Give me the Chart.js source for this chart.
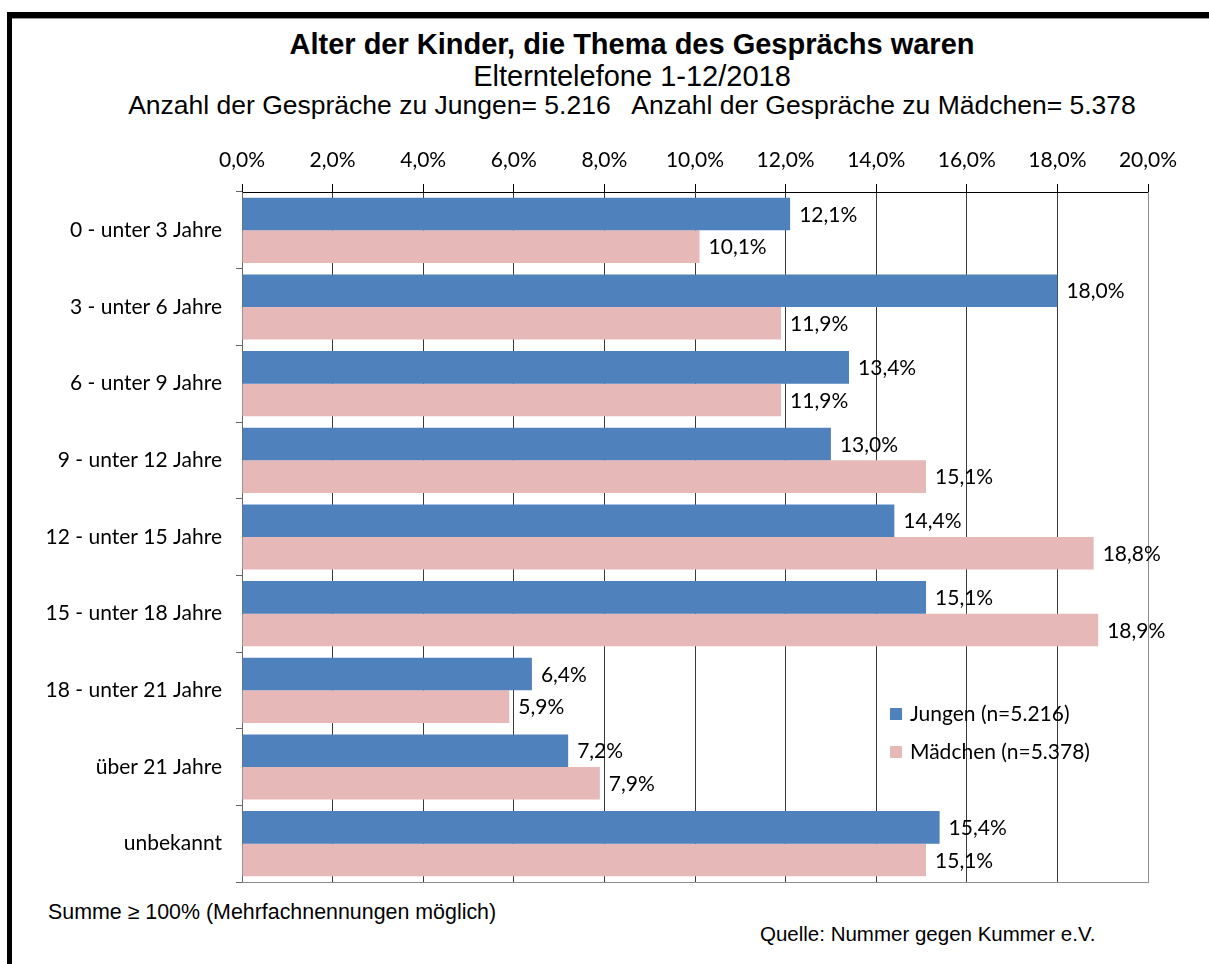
<!DOCTYPE html>
<html>
<head>
<meta charset="utf-8">
<script src="https://cdn.jsdelivr.net/npm/chart.js@4/dist/chart.umd.min.js"></script>
<style>
  body { margin: 0; background: #fff; }
  #wrap { position: relative; width: 1209px; height: 964px; background: #fff; overflow: hidden; }
  .txt { position: absolute; font-family: "Liberation Sans", Arial, sans-serif; color: #000; white-space: nowrap; line-height: 1.15; }
  .c { left: 0; width: 1264px; text-align: center; }
  #frameTop { position: absolute; left: 7px; top: 12px; width: 1202px; height: 6px; background: #000; border-bottom: 1px solid #999; }
  #frameLeft { position: absolute; left: 7px; top: 12px; width: 5px; height: 952px; background: #000; }
  canvas { position: absolute; left: 0; top: 0; }
</style>
</head>
<body>
<div id="wrap">
  <div id="frameTop"></div>
  <div id="frameLeft"></div>
  <div class="txt c" style="top:28px;font-size:29px;font-weight:bold;">Alter der Kinder, die Thema des Gesprächs waren</div>
  <div class="txt c" style="top:60px;font-size:29px;">Elterntelefone 1-12/2018</div>
  <div class="txt c" style="top:90px;font-size:26.5px;">Anzahl der Gespräche zu Jungen= 5.216&nbsp;&nbsp; Anzahl der Gespräche zu Mädchen= 5.378</div>
  <div class="txt" style="left:48px;top:900px;font-size:21.4px;">Summe ≥ 100% (Mehrfachnennungen möglich)</div>
  <div class="txt" style="left:760px;top:922px;font-size:20.5px;">Quelle: Nummer gegen Kummer e.V.</div>
  <canvas id="chart" width="1209" height="964"></canvas>
</div>
<script>
// Altersgruppen
const categories = ['0 - unter 3 Jahre', '3 - unter 6 Jahre', '6 - unter 9 Jahre', '9 - unter 12 Jahre',
  '12 - unter 15 Jahre', '15 - unter 18 Jahre', '18 - unter 21 Jahre', 'über 21 Jahre', 'unbekannt'];
const jungen = [12.1, 18.0, 13.4, 13.0, 14.4, 15.1, 6.4, 7.2, 15.4];
const maedchen = [10.1, 11.9, 11.9, 15.1, 18.8, 18.9, 5.9, 7.9, 15.1];
const xTicks = [0, 2, 4, 6, 8, 10, 12, 14, 16, 18, 20];

const FONT = 'Lato, "Open Sans", sans-serif';
const fmt = v => v.toFixed(1).replace('.', ',') + '%';

// Werte neben den Balken + Legende + Rahmen der Zeichenfläche
const extras = {
  id: 'extras',
  afterDatasetsDraw(chart) {
    const ctx = chart.ctx;
    const a = chart.chartArea;
    ctx.save();
    // rechter und unterer Rand
    ctx.strokeStyle = '#8c8c8c';
    ctx.lineWidth = 1;
    ctx.beginPath();
    ctx.moveTo(a.right + 0.5, a.top);
    ctx.lineTo(a.right + 0.5, a.bottom + 0.5);
    ctx.lineTo(a.left, a.bottom + 0.5);
    ctx.stroke();

    ctx.font = '21px ' + FONT;
    ctx.fillStyle = '#000';
    ctx.textBaseline = 'middle';
    ctx.textAlign = 'left';
    chart.data.datasets.forEach((ds, i) => {
      chart.getDatasetMeta(i).data.forEach((el, j) => {
        ctx.fillText(fmt(ds.data[j]), el.x + 9, el.y + 1);
      });
    });

    // Legende
    let lx = a.left + 648, ly = a.top + 522;
    chart.data.datasets.forEach(ds => {
      ctx.fillStyle = ds.backgroundColor;
      ctx.fillRect(lx, ly - 6, 12, 12);
      ctx.fillStyle = '#000';
      ctx.fillText(ds.label, lx + 20, ly);
      ly += 38;
    });
    ctx.restore();
  }
};

new Chart(document.getElementById('chart'), {
  type: 'bar',
  data: {
    labels: categories,
    datasets: [
      { label: 'Jungen (n=5.216)', data: jungen, backgroundColor: '#4f81bd' },
      { label: 'Mädchen (n=5.378)', data: maedchen, backgroundColor: '#e6b9b8' }
    ]
  },
  options: {
    indexAxis: 'y',
    responsive: false,
    animation: false,
    devicePixelRatio: 1,
    categoryPercentage: 0.85,
    barPercentage: 1.0,
    layout: { padding: { top: 140, right: 61, bottom: 82, left: 0 } },
    plugins: {
      legend: { display: false },
      title: { display: false },
      tooltip: { enabled: false }
    },
    scales: {
      x: {
        position: 'top',
        min: 0,
        max: 20,
        afterBuildTicks: s => { s.ticks = xTicks.map(v => ({ value: v })); },
        afterFit: s => { s.height = 52; },
        ticks: {
          callback: v => fmt(v),
          font: { family: FONT, size: 21 },
          color: '#000',
          padding: 11,
          maxRotation: 0,
          autoSkip: false
        },
        grid: {
          color: c => c.index === xTicks.length - 1 ? '#8c8c8c' : '#3a3a3a',
          tickColor: '#000',
          tickLength: 8
        },
        border: { color: '#000', width: 1 }
      },
      y: {
        afterFit: s => { s.width = 242; },
        ticks: {
          font: { family: FONT, size: 21 },
          color: '#000',
          padding: 14,
          autoSkip: false
        },
        grid: {
          offset: true,
          drawOnChartArea: false,
          tickColor: '#666',
          tickLength: 6
        },
        border: { color: '#666', width: 1 }
      }
    }
  },
  plugins: [extras]
});
</script>
</body>
</html>
